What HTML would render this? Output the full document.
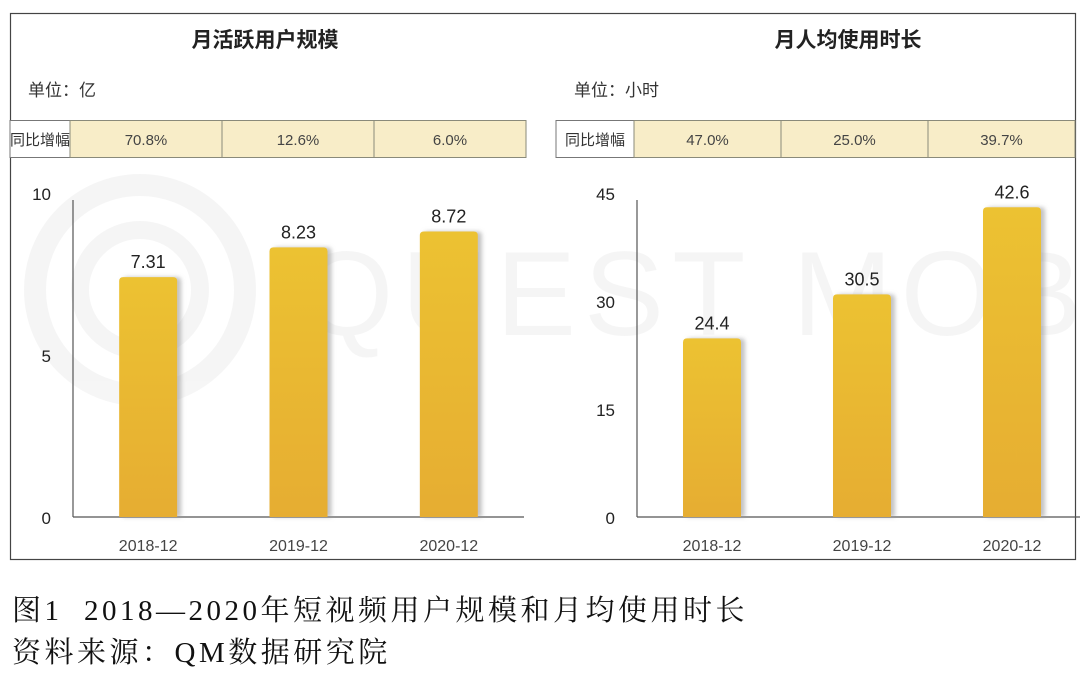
<!DOCTYPE html>
<html><head><meta charset="utf-8"><style>
body{margin:0;width:1080px;height:685px;background:#fff;overflow:hidden;font-family:"Liberation Sans","Noto Sans CJK SC",sans-serif;}
svg text{font-family:"Liberation Sans","Noto Sans CJK SC",sans-serif;}
.cap{position:absolute;left:12px;font-family:"Liberation Serif","Noto Serif CJK SC",serif;font-size:29px;color:#111;letter-spacing:3.5px;white-space:nowrap}
</style></head><body>
<svg id="c" width="1080" height="685" style="position:absolute;left:0;top:0">
<defs>
<linearGradient id="g" x1="0" y1="0" x2="0" y2="1"><stop offset="0" stop-color="#ecc231"/><stop offset="1" stop-color="#e6ad30"/></linearGradient>
<filter id="sh" x="-20%" y="-5%" width="150%" height="110%"><feDropShadow dx="4" dy="0" stdDeviation="2" flood-color="#999" flood-opacity="0.6"/></filter>
</defs>
<g opacity="0.035">
<circle cx="140" cy="290" r="105" fill="none" stroke="#000" stroke-width="22"/>
<circle cx="140" cy="290" r="60" fill="none" stroke="#000" stroke-width="18"/>
<text x="300" y="335" font-size="120" fill="#000" letter-spacing="8">QUEST MOBILE</text>
</g>
<rect x="10.5" y="13.5" width="1065" height="546" fill="none" stroke="#444" stroke-width="1.2"/>
</svg>
<div class="cap" style="top:588px">图1&nbsp; 2018—2020年短视频用户规模和月均使用时长</div>
<div class="cap" style="top:630px">资料来源：QM数据研究院</div>
<script>
const categories=["2018-12","2019-12","2020-12"];
const mauValues=[7.31,8.23,8.72];
const mauGrowth=["70.8%","12.6%","6.0%"];
const mauTicks=[0,5,10];
const timeValues=[24.4,30.5,42.6];
const timeGrowth=["47.0%","25.0%","39.7%"];
const timeTicks=[0,15,30,45];
const svg=document.getElementById('c');
const NS='http://www.w3.org/2000/svg';
function mk(tag,at,txt){const e=document.createElementNS(NS,tag);for(const k in at)e.setAttribute(k,at[k]);if(txt!==undefined)e.textContent=txt;svg.appendChild(e);return e;}
function panel(p){
 const t=mk('text',{x:p.cx,y:47,'font-size':21,'font-weight':'bold','text-anchor':'middle',fill:'#222'},p.title);
 
 
 const u=mk('text',{x:p.tx+18,y:96,'font-size':17,fill:'#333'},p.unit);
 
 
 const lr=mk('rect',{x:p.tx,y:120.5,width:p.lw,height:37,fill:'#fff',stroke:'#777'});
 
 
 const lt=mk('text',{x:p.tx+p.lw/2,y:145,'font-size':15,'text-anchor':'middle',fill:'#333'},'同比增幅');
 
 
 const cw=(p.tr-p.tx-p.lw)/3;
 p.growth.forEach((g,i)=>{
  const r=mk('rect',{x:p.tx+p.lw+i*cw,y:120.5,width:cw,height:37,fill:'#f8edc8',stroke:'#8a8a7a'});
  
  
  const tt=mk('text',{x:p.tx+p.lw+(i+.5)*cw,y:145,'font-size':15,'text-anchor':'middle',fill:'#444'},g);
  
  
 });
 const y0=517,y1=193,max=p.ticks[p.ticks.length-1];
 const ys=v=>y0-(v/max)*(y0-y1);
 const xs=i=>p.ax+(i+.5)*(p.ar-p.ax)/3;
 p.ticks.forEach(v=>{const e=mk('text',{x:p.ax-22,y:ys(v)+7,'font-size':17,'text-anchor':'end',fill:'#222'},v);
  
  });
 const ya=mk('line',{x1:p.ax,y1:y1+7,x2:p.ax,y2:y0,stroke:'#555','stroke-width':1.2});
 
 
 const xa=mk('line',{x1:p.ax,y1:y0,x2:p.ar,y2:y0,stroke:'#555','stroke-width':1.2});
 
 
 p.values.forEach((v,i)=>{
  const b=mk('path',{d:`M${xs(i)-29},${y0} V${ys(v)+1} q0,-4 4,-4 h50 q4,0 4,4 V${y0} Z`,fill:'url(#g)',filter:'url(#sh)'});
  
  
  const l=mk('text',{x:xs(i),y:ys(v)-12,'font-size':18,'text-anchor':'middle',fill:'#222'},v);
  
  
  const c=mk('text',{x:xs(i),y:551,'font-size':16,'text-anchor':'middle',fill:'#444'},categories[i]);
  
  
 });
}
panel({id:'mau',title:'月活跃用户规模',unit:'单位：亿',cx:265,tx:10,tr:526,lw:60,growth:mauGrowth,values:mauValues,ticks:mauTicks,ax:73,ar:524});
panel({id:'time',title:'月人均使用时长',unit:'单位：小时',cx:848,tx:556,tr:1075,lw:78,growth:timeGrowth,values:timeValues,ticks:timeTicks,ax:637,ar:1087});
</script>
</body></html>
